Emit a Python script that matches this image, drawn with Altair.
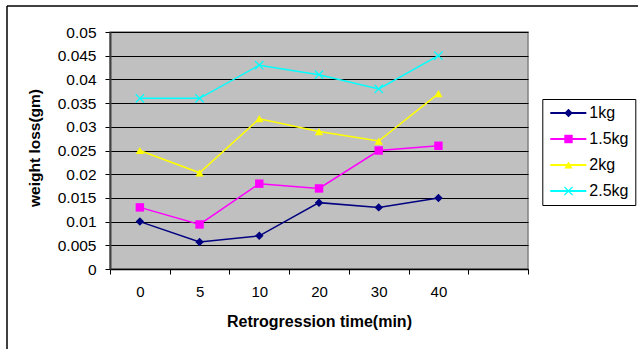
import altair as alt
import pandas as pd

# ---- data ----
times = ["0", "5", "10", "20", "30", "40"]
x_slots = times + [""]  # Excel leaves one empty category slot at the right
series_names = ["1kg", "1.5kg", "2kg", "2.5kg"]
loss_1kg = [0.010, 0.0057, 0.007, 0.014, 0.013, 0.015]
loss_15kg = [0.013, 0.0094, 0.018, 0.017, 0.025, 0.026]
loss_2kg = [0.025, 0.0203, 0.0317, 0.029, 0.027, 0.037]
loss_25kg = [0.036, 0.036, 0.043, 0.041, 0.038, 0.045]
y_ticks = [0, 0.005, 0.01, 0.015, 0.02, 0.025, 0.03, 0.035, 0.04, 0.045, 0.05]

colors = ["#000080", "#FF00FF", "#FFFF00", "#00FFFF"]
X_MARK = ("M0,0.212L-0.894,1.106L-1.106,0.894L-0.212,0L-1.106,-0.894L-0.894,-1.106"
          "L0,-0.212L0.894,-1.106L1.106,-0.894L0.212,0L1.106,0.894L0.894,1.106Z")
shapes = ["diamond", "square", "triangle-up", X_MARK]
marker_sizes = [72, 69, 100, 100]

FONT = "Liberation Sans"

rows = []
for name, vals in zip(series_names, [loss_1kg, loss_15kg, loss_2kg, loss_25kg]):
    for t, v in zip(times, vals):
        rows.append({"time": t, "loss": v, "series": name, "series_m": name})
df = pd.DataFrame(rows)

x_enc = alt.X(
    "time:N",
    bandPosition=0.5,
    scale=alt.Scale(type="band", domain=x_slots, paddingInner=0, paddingOuter=0),
    axis=alt.Axis(
        title="Retrogression time(min)",
        labelAngle=0,
        tickBand="extent",
        tickSize=5,
        tickColor="black",
        domainColor="black",
        domainWidth=1.5,
        labelFontSize=15,
        labelPadding=10,
        labelColor="black",
        labelFont=FONT,
        titleFont=FONT,
        titleFontSize=16,
        titleFontWeight="bold",
        titleColor="black",
        titleX=209,
        titleY=57.7,
        titleBaseline="alphabetic",
        grid=False,
    ),
)

y_enc = alt.Y(
    "loss:Q",
    scale=alt.Scale(domain=[0, 0.05], nice=False),
    axis=alt.Axis(
        title="weight loss(gm)",
        values=y_ticks,
        format="~g",
        tickSize=5,
        tickColor="black",
        labelPadding=9,
        labelFontSize=15.5,
        labelFont=FONT,
        labelColor="black",
        domainColor="#404040",
        domainWidth=2,
        grid=True,
        gridColor="black",
        gridWidth=1,
        titleFont=FONT,
        titleFontSize=15.5,
        titleFontWeight="bold",
        titleColor="black",
        titleX=-70.5,
        titleY=115.5,
        titleAngle=270,
        titleAlign="center",
        titleBaseline="alphabetic",
    ),
)

legend_lines = alt.Legend(
    title=None,
    orient="none",
    legendX=432.3,
    legendY=67,
    symbolType="M-1,0H5",
    symbolSize=144,
    symbolStrokeWidth=2,
    labelOffset=25,
    labelFontSize=16,
    labelFont=FONT,
    labelColor="black",
    padding=6,
    rowPadding=10,
    strokeColor="black",
    fillColor="white",
)

legend_marks = alt.Legend(
    title=None,
    orient="none",
    legendX=444.5,
    legendY=67,
    symbolSize=80,
    symbolStrokeWidth=0,
    labelFontSize=16,
    labelFont=FONT,
    labelExpr="' '",
    padding=6,
    rowPadding=10,
)

lines = alt.Chart(df).mark_line(strokeWidth=1.5).encode(
    x=x_enc,
    y=y_enc,
    color=alt.Color(
        "series:N",
        scale=alt.Scale(domain=series_names, range=colors),
        legend=legend_lines,
    ),
)

points = alt.Chart(df).mark_point(filled=True, opacity=1).encode(
    x=x_enc,
    y=y_enc,
    color=alt.Color("series_m:N", scale=alt.Scale(domain=series_names, range=colors), legend=legend_marks),
    shape=alt.Shape("series_m:N", scale=alt.Scale(domain=series_names, range=shapes), legend=legend_marks),
    size=alt.Size("series_m:N", scale=alt.Scale(domain=series_names, range=marker_sizes), legend=None),
)

frame_df = pd.DataFrame({"k": [0]})
frame_top = alt.Chart(frame_df).mark_rule(color="black", strokeWidth=1.5).encode(
    x=alt.value(-103), x2=alt.value(528), y=alt.value(-26)
)
frame_left = alt.Chart(frame_df).mark_rule(color="black", strokeWidth=1.5).encode(
    x=alt.value(-103), y=alt.value(-26), y2=alt.value(317)
)

chart = (
    alt.layer(frame_top, frame_left, lines, points)
    .resolve_scale(color="independent", shape="independent", size="independent")
    .resolve_legend(color="independent", shape="independent", size="independent")
    .properties(
        width=418,
        height=237,
        autosize=alt.AutoSizeParams(type="none"),
        padding={"left": 110, "top": 32, "right": 110, "bottom": 80},
        background="white",
    )
    .configure_view(stroke="#808080", strokeWidth=1.5, fill="#C0C0C0")
)

chart.save("out.html", embed_options={"renderer": "svg", "actions": False})
